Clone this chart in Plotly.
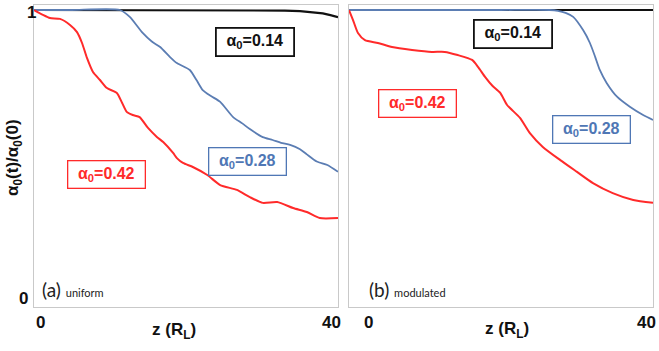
import plotly.graph_objects as go

# ---- (a) uniform ----
z_a_014 = [0, 10, 20, 28, 31, 33, 35, 36.5, 38, 39, 40]
v_a_014 = [1.0, 1.0, 1.0, 1.0, 0.999, 0.998, 0.996, 0.993, 0.988, 0.982, 0.975]

z_a_028 = [0, 5, 11.3, 12.6, 14.3, 15.5, 16.6, 17.9, 18.8, 20.5, 21.4, 22.2, 23.3,
           24.5, 26.2, 27.4, 28.4, 30.1, 31.4, 32.5, 33.7, 35.0, 35.9, 37.2, 38.6, 40]
v_a_028 = [1.0, 1.0, 1.0, 0.976, 0.92, 0.89, 0.871, 0.836, 0.815, 0.791, 0.755, 0.721, 0.7,
           0.68, 0.627, 0.605, 0.585, 0.557, 0.547, 0.537, 0.53, 0.515, 0.497, 0.472, 0.46, 0.436]

z_a_042 = [0, 1.18, 2.1, 3.42, 4.74, 5.66, 6.32, 6.97, 7.76, 8.68, 9.6, 10.9, 11.6, 12.2,
           13.0, 13.9, 15.0, 16.2, 17.0, 18.3, 18.8, 19.6, 20.9, 22.8, 24.5, 26.7, 28.4,
           30.1, 32.0, 34.1, 35.9, 37.6, 40]
v_a_042 = [1.0, 0.983, 0.972, 0.969, 0.948, 0.923, 0.885, 0.833, 0.784, 0.756, 0.728, 0.711,
           0.676, 0.645, 0.634, 0.627, 0.589, 0.557, 0.54, 0.502, 0.484, 0.467, 0.453, 0.425,
           0.39, 0.373, 0.348, 0.328, 0.331, 0.31, 0.296, 0.275, 0.275]

# ---- (b) modulated ----
z_b_014 = [0, 10, 20, 30, 40]
v_b_014 = [1.0, 1.0, 1.0, 1.0, 1.0]

z_b_028 = [0, 10, 20, 26.4, 27.5, 28.5, 29.5, 30.8, 31.7, 32.4, 33.0, 33.9, 35.3, 37.0, 38.7, 40]
v_b_028 = [1.0, 1.0, 1.0, 1.0, 0.997, 0.99, 0.976, 0.93, 0.885, 0.836, 0.791, 0.746, 0.697,
           0.662, 0.634, 0.617]

z_b_042 = [0, 0.53, 1.18, 2.1, 3.8, 5.66, 8.3, 10.9, 12.6, 14.3, 16.2, 17.0, 17.9, 18.9,
           19.9, 20.8, 22.5, 23.8, 25.5, 27.8, 30.0, 32.1, 34.7, 37.4, 40]
v_b_042 = [1.0, 0.965, 0.92, 0.895, 0.885, 0.871, 0.861, 0.854, 0.854, 0.843, 0.826, 0.801,
           0.767, 0.735, 0.711, 0.669, 0.624, 0.571, 0.523, 0.477, 0.436, 0.397, 0.362,
           0.338, 0.328]

x_ticks = [0, 40]
y_ticks = [0, 1]
labels = ["α<sub>0</sub>=0.14", "α<sub>0</sub>=0.28", "α<sub>0</sub>=0.42"]

BLACK = "#111111"
BLUE = "#5b7db3"
RED = "#ff2a2a"
FRAME = "#c9c9c9"

W, H = 659, 351
fig = go.Figure()

def px(x):
    return x / W

def py(y):
    return 1 - y / H

def add_panel(xa, ya, z14, v14, z28, v28, z42, v42):
    fig.add_trace(go.Scatter(x=z14, y=v14, mode="lines", xaxis=xa, yaxis=ya,
                             line=dict(color=BLACK, width=2.2), showlegend=False))
    fig.add_trace(go.Scatter(x=z28, y=v28, mode="lines", xaxis=xa, yaxis=ya,
                             line=dict(color=BLUE, width=1.8, shape="spline", smoothing=0.6),
                             showlegend=False))
    fig.add_trace(go.Scatter(x=z42, y=v42, mode="lines", xaxis=xa, yaxis=ya,
                             line=dict(color=RED, width=2.0, shape="spline", smoothing=0.6),
                             showlegend=False))

add_panel("x", "y", z_a_014, v_a_014, z_a_028, v_a_028, z_a_042, v_a_042)
add_panel("x2", "y2", z_b_014, v_b_014, z_b_028, v_b_028, z_b_042, v_b_042)

y_dom = [py(307), py(5)]
y_rng = [-10 / 287, 1 + 5 / 287]
axis_common = dict(showgrid=False, zeroline=False, showticklabels=False, ticks="",
                   showline=True, mirror=True, linecolor=FRAME, linewidth=1)

fig.update_layout(
    width=W, height=H,
    margin=dict(l=0, r=0, t=0, b=0),
    paper_bgcolor="white", plot_bgcolor="white",
    xaxis=dict(domain=[px(34), px(338)], range=[0, 40], **axis_common),
    yaxis=dict(domain=y_dom, range=y_rng, **axis_common),
    xaxis2=dict(domain=[px(349), px(653)], range=[0, 40], anchor="y2", **axis_common),
    yaxis2=dict(domain=y_dom, range=y_rng, anchor="x2", **axis_common),
)

BOLD = "Liberation Sans"
LIGHT = "Lato"
ann = []

def text(x, y, s, size=15, color=BLACK, family=BOLD, bold=True, anchor="center", angle=0):
    ann.append(dict(x=px(x), y=py(y), xref="paper", yref="paper", text=(f"<b>{s}</b>" if bold else s),
                    showarrow=False, xanchor=anchor, yanchor="middle", textangle=angle,
                    font=dict(family=family, size=size, color=color)))

def box(x, y, s, color, bw):
    ann.append(dict(x=px(x), y=py(y), xref="paper", yref="paper", text=f"<b>{s}</b>",
                    showarrow=False, xanchor="center", yanchor="middle",
                    width=74, height=24, borderpad=1, borderwidth=bw,
                    bordercolor=color, bgcolor="white",
                    font=dict(family=BOLD, size=16, color=color)))

# tick labels
text(31, 13, str(y_ticks[1]), size=17)
text(23, 298, str(y_ticks[0]), size=17)
text(40, 322, str(x_ticks[0]), size=17)
text(331, 322, str(x_ticks[1]), size=17)
text(368, 322, str(x_ticks[0]), size=17)
text(646, 322, str(x_ticks[1]), size=17)

# axis titles
text(14, 158, "α<sub>0</sub>(t)/α<sub>0</sub>(0)", size=17, angle=-90)
text(174, 331, "z (R<sub>L</sub>)", size=17)
text(507, 330, "z (R<sub>L</sub>)", size=17)

# panel tags
text(40, 289, "(a) <span style='font-size:11px'>uniform</span>", size=19, family=LIGHT,
     bold=False, anchor="left", color="#222222")
text(367, 289, "(b) <span style='font-size:11px'>modulated</span>", size=19, family=LIGHT,
     bold=False, anchor="left", color="#222222")

# curve labels
box(255, 42.5, labels[0], BLACK, 1.8)
box(247.5, 161.5, labels[1], "#4f77b5", 1.3)
box(107, 174.5, labels[2], RED, 1.3)
box(513, 33.5, labels[0], BLACK, 1.8)
box(591, 129, labels[1], "#4f77b5", 1.3)
box(417.5, 103.5, labels[2], RED, 1.3)

fig.update_layout(annotations=ann)
fig.write_html("out.html")
